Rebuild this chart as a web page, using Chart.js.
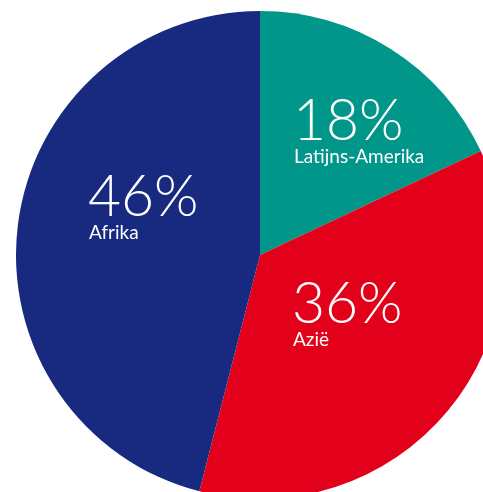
<!DOCTYPE html>
<html>
<head>
<meta charset="utf-8">
<script src="https://cdn.jsdelivr.net/npm/chart.js@4"></script>
<style>
  html, body { margin: 0; padding: 0; background: #fff; overflow: hidden; }
  #wrap { position: relative; width: 483px; height: 492px; overflow: hidden; }
  #regionChart { position: absolute; left: 16px; top: 11px; }
</style>
</head>
<body>
<div id="wrap"><canvas id="regionChart" width="488" height="488"></canvas></div>
<script>
// regionChart
const regions = ['Latijns-Amerika', 'Azië', 'Afrika'];
const shares = [18, 36, 46];
const colors = ['#00968A', '#E2001A', '#172A80'];

// where each label block sits (left edge, baseline of the percentage)
const labelSpots = [[293, 140], [292, 323], [88, 216]];

const sliceLabels = {
    id: 'sliceLabels',
    afterDatasetsDraw(chart) {
        const c = chart.ctx;
        const ds = chart.data.datasets[0];
        c.save();
        c.fillStyle = '#ffffff';
        c.textAlign = 'left';
        c.textBaseline = 'alphabetic';
        chart.data.labels.forEach((label, i) => {
            const [x, y] = labelSpots[i];
            // canvas is shifted inside the page
            const cx = x - 16, cy = y - 11;
            c.font = '300 57px Lato, "Noto Sans", sans-serif';
            c.fillText(ds.data[i] + '%', cx, cy);
            c.font = '400 19px Lato, "Noto Sans", sans-serif';
            c.fillText(label, cx + 1, cy + 23);
        });
        c.restore();
    }
};

const ctx = document.getElementById('regionChart').getContext('2d');

new Chart(ctx, {
    type: 'pie',
    data: {
        labels: regions,
        datasets: [{
            data: shares,
            backgroundColor: colors,
            borderWidth: 0
        }]
    },
    options: {
        responsive: false,
        animation: false,
        layout: { padding: 0 },
        plugins: {
            legend: { display: false },
            tooltip: { enabled: false }
        }
    },
    plugins: [sliceLabels]
});
</script>
</body>
</html>
